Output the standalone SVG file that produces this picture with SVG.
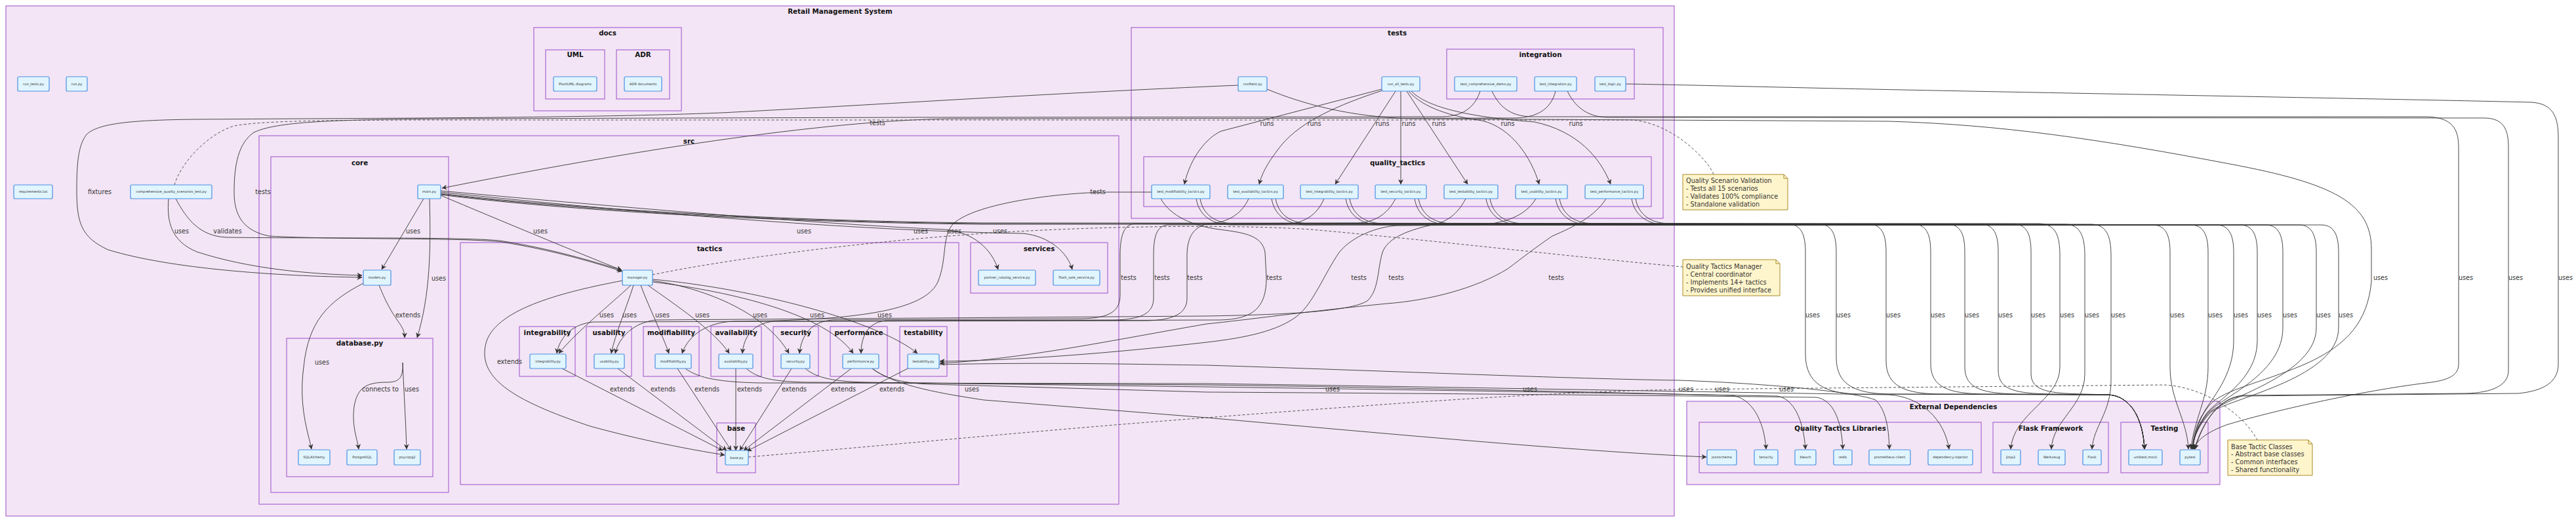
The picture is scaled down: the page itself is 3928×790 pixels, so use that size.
<svg xmlns="http://www.w3.org/2000/svg" width="3928" height="790" viewBox="0 0 3928 790">
<style>
.c{fill:#f3e5f5;stroke:#9c4dcc;stroke-width:1}
.n{fill:#e1f5fe;stroke:#4a90e2;stroke-width:1.2}
.nt{font-family:"DejaVu Sans",sans-serif;font-size:5.2px;fill:#333;text-anchor:middle}
.ct{font-family:"DejaVu Sans",sans-serif;font-size:10.3px;font-weight:bold;fill:#111;text-anchor:middle}
.el{font-family:"DejaVu Sans",sans-serif;font-size:9.6px;fill:#333;text-anchor:middle}
.e{fill:none;stroke:#333;stroke-width:0.9;marker-end:url(#ah)}
.d{fill:none;stroke:#444;stroke-width:0.9;stroke-dasharray:4 3}
.note{fill:#fff5cc;stroke:#aa8a2a;stroke-width:1}
.ntx{font-family:"DejaVu Sans",sans-serif;font-size:9.7px;fill:#333}
</style>
<defs>
<marker id="ah" viewBox="0 0 10 10" refX="9.5" refY="5" markerWidth="8" markerHeight="8" markerUnits="userSpaceOnUse" orient="auto">
<path d="M0,0 L10,5 L0,10 L3,5 z" fill="#333"/>
</marker>
</defs>
<rect width="3928" height="790" fill="#ffffff"/>

<g id="clusters">
<g id="cl-root"><rect class="c" x="9" y="9" width="2544" height="778"/><text class="ct" x="1281" y="21">Retail Management System</text></g>
<g id="cl-docs"><rect class="c" x="814" y="42" width="225" height="127"/><text class="ct" x="926.5" y="53.7">docs</text></g>
<g id="cl-uml"><rect class="c" x="832" y="76" width="90" height="75"/><text class="ct" x="877" y="86.7">UML</text></g>
<g id="cl-adr"><rect class="c" x="940" y="76" width="81" height="75"/><text class="ct" x="980.5" y="86.7">ADR</text></g>
<g id="cl-tests"><rect class="c" x="1725" y="42" width="811" height="291"/><text class="ct" x="2130.5" y="53.7">tests</text></g>
<g id="cl-integration"><rect class="c" x="2206" y="75" width="286" height="76"/><text class="ct" x="2349" y="86.7">integration</text></g>
<g id="cl-quality_tactics"><rect class="c" x="1744" y="239" width="774" height="76"/><text class="ct" x="2131" y="251.7">quality_tactics</text></g>
<g id="cl-src"><rect class="c" x="395" y="207" width="1311" height="562"/><text class="ct" x="1050.5" y="218.7">src</text></g>
<g id="cl-core"><rect class="c" x="413" y="239" width="271" height="512"/><text class="ct" x="548.5" y="251.7">core</text></g>
<g id="cl-database"><rect class="c" x="437" y="516" width="223" height="211"/><text class="ct" x="548.5" y="526.7">database.py</text></g>
<g id="cl-tactics"><rect class="c" x="702" y="370" width="760" height="369"/><text class="ct" x="1082" y="382.7">tactics</text></g>
<g id="cl-services"><rect class="c" x="1480" y="370" width="209" height="77"/><text class="ct" x="1584.5" y="382.7">services</text></g>
<g id="cl-integrability"><rect class="c" x="792" y="498" width="85" height="76"/><text class="ct" x="834.5" y="510.5">integrability</text></g>
<g id="cl-usability"><rect class="c" x="894" y="498" width="69" height="76"/><text class="ct" x="928.5" y="510.5">usability</text></g>
<g id="cl-modifiability"><rect class="c" x="981" y="498" width="85" height="76"/><text class="ct" x="1023.5" y="510.5">modifiability</text></g>
<g id="cl-availability"><rect class="c" x="1084" y="498" width="77" height="76"/><text class="ct" x="1122.5" y="510.5">availability</text></g>
<g id="cl-security"><rect class="c" x="1179" y="498" width="69" height="76"/><text class="ct" x="1213.5" y="510.5">security</text></g>
<g id="cl-performance"><rect class="c" x="1266" y="498" width="87" height="76"/><text class="ct" x="1309.5" y="510.5">performance</text></g>
<g id="cl-testability"><rect class="c" x="1372" y="498" width="72" height="76"/><text class="ct" x="1408" y="510.5">testability</text></g>
<g id="cl-base"><rect class="c" x="1093" y="645" width="59" height="76"/><text class="ct" x="1122.5" y="656.7">base</text></g>
<g id="cl-external"><rect class="c" x="2572" y="612" width="813" height="127"/><text class="ct" x="2978.5" y="623.7">External Dependencies</text></g>
<g id="cl-qtlibs"><rect class="c" x="2591" y="644" width="430" height="77"/><text class="ct" x="2806" y="656.7">Quality Tactics Libraries</text></g>
<g id="cl-flask"><rect class="c" x="3039" y="644" width="176" height="77"/><text class="ct" x="3127" y="656.7">Flask Framework</text></g>
<g id="cl-testing"><rect class="c" x="3234" y="644" width="133" height="77"/><text class="ct" x="3300.5" y="656.7">Testing</text></g>
</g>

<g id="edges">
<!-- core -->
<path class="e" d="M1888,130 C1600,142 1300,162 1100,172 C900,180 600,180 300,182 C200,183 150,188 132,205 C119,222 117,250 117,290 C117,340 124,362 165,381 C260,410 420,421 552,423"/>
<path class="e" d="M257,303 C254,340 262,368 300,384 C380,410 470,418 552,420"/>
<path class="e" d="M268,303 C285,335 305,360 345,362 C500,364 700,361 762,367 C840,379 902,398 948,412"/>
<path class="e" d="M2257,139 C2250,160 2235,177 2200,178 L1400,179 L700,181 C500,182 420,186 387,202 C364,218 357,250 357,293 C357,330 372,352 410,360 C520,366 700,362 765,369 C845,382 905,400 949,414"/>
<path class="e" d="M2372,139 C2366,162 2350,179 2310,180 L1450,181 C1250,184 950,232 674,287"/>
<path class="e" d="M646,303 L582,411"/>
<path class="e" d="M655,303 C657,380 656,450 636,515"/>
<path class="e" d="M578,435 C590,465 600,480 607,490 C614,500 617,505 617,515"/>
<path class="e" d="M554,432 C500,460 470,490 463,560 C455,620 470,660 475,685"/>
<path class="e" d="M614,553 C615,575 610,583 590,583 C560,583 545,590 540,620 C536,650 545,670 547,685"/>
<path class="e" d="M614,553 C616,600 619,650 620,685"/>
<path class="e" d="M672,298 C760,335 880,385 948,412"/>
<path class="e" d="M672,291 C900,312 1250,342 1440,350 C1485,354 1512,380 1522,411"/>
<path class="e" d="M672,293 C950,322 1300,352 1560,356 C1600,360 1628,385 1635,411"/>
<!-- main to flask libs -->
<path class="e" d="M672,295 C900,322 1250,338 1500,340 L3110,341 C3135,342 3141,360 3141,390 L3141,560 C3141,610 3070,630 3066,685"/>
<path class="e" d="M672,296 C900,324 1250,339 1500,341 L3150,342 C3172,343 3179,360 3179,390 L3179,570 C3179,620 3130,640 3128,685"/>
<path class="e" d="M672,297 C900,326 1250,340 1500,342 L3190,342 C3212,343 3219,360 3219,390 L3219,580 C3219,630 3192,650 3190,685"/>
<!-- manager uses -->
<path class="e" d="M962,435 C930,465 880,505 852,539"/>
<path class="e" d="M966,435 C955,470 938,510 932,539"/>
<path class="e" d="M977,435 C990,470 1010,510 1020,539"/>
<path class="e" d="M988,435 C1030,465 1090,505 1112,539"/>
<path class="e" d="M995,428 C1080,440 1170,480 1203,539"/>
<path class="e" d="M995,430 C1120,445 1260,480 1301,539"/>
<path class="e" d="M995,426 C1150,440 1340,490 1399,539"/>
<!-- extends -->
<path class="e" d="M949,428 C860,445 760,470 742,520 C725,575 780,610 900,650 C980,672 1050,685 1105,694"/>
<path class="e" d="M857,562 L1102,687"/>
<path class="e" d="M942,562 L1108,687"/>
<path class="e" d="M1033,562 L1115,687"/>
<path class="e" d="M1122,562 L1122,687"/>
<path class="e" d="M1207,562 L1128,687"/>
<path class="e" d="M1298,562 L1134,687"/>
<path class="e" d="M1386,561 L1139,688"/>
<!-- runs -->
<path class="e" d="M2107,136 L1862,200 C1840,210 1815,240 1806,281"/>
<path class="e" d="M2108,138 C2040,160 1985,185 1955,220 C1935,245 1925,262 1920,281"/>
<path class="e" d="M2128,139 L2036,281"/>
<path class="e" d="M2136,139 L2136,281"/>
<path class="e" d="M2145,139 L2238,281"/>
<path class="e" d="M2148,139 C2170,165 2215,178 2260,184 C2305,195 2335,240 2347,281"/>
<path class="e" d="M2152,139 C2180,168 2260,180 2340,186 C2405,200 2440,240 2456,281"/>
<!-- tests to tactic modules -->
<path class="e" d="M1756,293 L1690,293 C1610,294 1490,310 1455,340 C1435,358 1445,395 1430,430 C1410,475 1300,489 1120,490 C1080,491 1050,510 1040,539"/>
<path class="e" d="M2128,303 C2115,328 2095,339 2070,340 L1730,341 C1713,343 1708,360 1708,390 L1708,450 C1708,476 1690,485 1650,486 L1270,488 C1236,490 1222,512 1219,539"/>
<path class="e" d="M2019,303 C2008,328 1990,340 1960,342 L1780,343 C1763,345 1759,362 1759,390 L1759,455 C1759,478 1740,487 1700,488 L1350,489 C1322,492 1313,515 1313,539"/>
<path class="e" d="M1904,303 C1893,327 1872,339 1845,341 C1820,344 1810,362 1810,390 L1810,455 C1810,478 1790,488 1750,489 L1180,490 C1148,493 1134,514 1132,539"/>
<path class="e" d="M1770,303 C1785,330 1820,345 1860,350 C1900,355 1925,360 1929,385 L1931,424 C1931,470 1910,487 1860,488 L905,491 C872,494 853,515 849,539"/>
<path class="e" d="M2342,303 C2326,330 2292,342 2250,343 L2130,344 C2100,346 2062,360 2042,385 C2018,420 2003,462 1978,482 C1948,505 1900,515 1840,522 C1700,538 1550,550 1433,551"/>
<path class="e" d="M2235,303 C2222,328 2205,338 2188,342 C2150,350 2116,362 2108,385 C2100,412 2103,440 2086,458 C2062,476 1950,480 1840,482 L1000,488 C966,492 944,514 938,539"/>
<path class="e" d="M2449,303 C2432,330 2400,346 2367,360 C2335,382 2315,398 2299,410 C2250,440 2180,458 2115,463 C2000,474 1900,488 1840,494 C1700,518 1560,548 1433,554"/>
<!-- tactic modules to libraries -->
<path class="e" d="M1432,556 C1600,552 1750,556 1840,557 C2100,565 2400,578 2560,580 C2700,585 2830,598 2860,610 C2875,625 2880,650 2881,685"/>
<path class="e" d="M1045,562 C1065,577 1100,583 1160,584 L1840,585 C2200,590 2600,598 2880,602 C2930,605 2965,640 2972,685"/>
<path class="e" d="M1138,562 C1155,577 1180,582 1230,583 L1840,587 C2200,592 2500,600 2640,603 C2670,606 2690,640 2693,685"/>
<path class="e" d="M1228,562 C1245,577 1275,582 1320,583 L1840,590 C2200,595 2600,602 2710,604 C2735,608 2750,640 2753,685"/>
<path class="e" d="M1330,562 C1350,578 1380,585 1420,586 L1840,598 C2200,600 2600,604 2770,606 C2795,610 2808,640 2810,685"/>
<path class="e" d="M1330,562 C1362,586 1420,598 1500,610 L1840,637 C2100,660 2400,688 2602,697"/>
<!-- tests to unittest.mock -->
<path class="e" d="M1830,303 C1834,325 1850,340 1880,341 L2728,342 C2747,343 2753,358 2753,385 L2753,540 C2753,585 2783,600 2833,601 L3215,602 C3250,604 3268,640 3270,685"/>
<path class="e" d="M1945,303 C1949,325 1965,340 1995,341 L2775,342 C2794,343 2800,358 2800,385 L2800,545 C2800,588 2830,600 2880,601 L3215,602 C3250,604 3268,640 3270,685"/>
<path class="e" d="M2058,303 C2062,325 2078,340 2108,341 L2851,342 C2870,343 2876,358 2876,385 L2876,550 C2876,590 2906,600 2956,601 L3215,602 C3250,604 3268,640 3270,685"/>
<path class="e" d="M2163,303 C2167,325 2183,340 2213,341 L2919,342 C2938,343 2944,358 2944,385 L2944,555 C2944,592 2974,600 3024,601 L3215,602 C3250,604 3268,640 3270,685"/>
<path class="e" d="M2272,303 C2276,325 2292,340 2322,341 L2971,342 C2990,343 2996,358 2996,385 L2996,560 C2996,594 3026,600 3076,601 L3215,602 C3250,604 3268,640 3270,685"/>
<path class="e" d="M2378,303 C2382,325 2398,340 2428,341 L3022,342 C3041,343 3047,358 3047,385 L3047,565 C3047,596 3077,600 3127,601 L3215,602 C3250,604 3268,640 3270,685"/>
<path class="e" d="M2494,303 C2498,325 2514,340 2544,341 L3072,342 C3091,343 3097,358 3097,385 L3097,570 C3097,597 3127,600 3177,601 L3215,602 C3250,604 3268,640 3270,685"/>
<!-- tests to pytest -->
<path class="e" d="M1824,303 C1828,327 1846,342 1876,343 L3284,343 C3303,344 3309,360 3309,385 L3309,560 C3309,610 3335,640 3337,685"/>
<path class="e" d="M1939,303 C1943,327 1961,342 1991,343 L3342,343 C3361,344 3367,360 3367,385 L3367,560 C3367,610 3345,640 3341,685"/>
<path class="e" d="M2052,303 C2056,327 2074,342 2104,343 L3381,343 C3400,344 3406,360 3406,385 L3406,520 C3406,575 3370,610 3360,630 C3350,645 3344,665 3343,685"/>
<path class="e" d="M2157,303 C2161,327 2179,342 2209,343 L3417,343 C3436,344 3442,360 3442,385 L3442,520 C3442,580 3380,610 3365,630 C3352,648 3345,665 3343,685"/>
<path class="e" d="M2266,303 C2270,327 2288,342 2318,343 L3456,343 C3475,344 3481,360 3481,385 L3481,500 C3481,570 3390,605 3368,628 C3352,646 3345,665 3343,685"/>
<path class="e" d="M2372,303 C2376,327 2394,342 2424,343 L3507,343 C3526,344 3532,360 3532,385 L3532,500 C3532,570 3400,605 3370,628 C3353,646 3345,665 3343,685"/>
<path class="e" d="M2488,303 C2492,327 2510,342 2540,343 L3541,343 C3560,344 3566,360 3566,385 L3566,500 C3566,575 3410,605 3372,628 C3354,646 3345,665 3343,685"/>
<!-- far right -->
<path class="e" d="M1932,136 C1990,160 2060,178 2150,181 L2880,185 C3050,190 3200,212 3400,250 C3560,280 3616,310 3616,380 L3616,430 C3610,490 3580,525 3520,553 C3460,580 3400,592 3375,612 C3355,630 3346,660 3344,685"/>
<path class="e" d="M2275,139 C2285,160 2300,177 2335,178 L3700,178 C3738,179 3749,195 3749,225 L3749,555 C3749,572 3735,580 3700,584 C3600,596 3460,628 3395,648 C3368,658 3350,670 3345,685"/>
<path class="e" d="M2390,139 C2400,160 2418,178 2450,179 L3790,180 C3818,181 3825,198 3825,225 L3825,565 C3825,588 3800,599 3760,600 L3420,603 C3385,606 3360,640 3346,685"/>
<path class="e" d="M2479,128 C2600,130 2700,133 2900,137 C3300,145 3700,152 3860,156 C3893,158 3901,178 3901,210 L3901,555 C3901,582 3880,596 3840,600 L3420,604 C3385,607 3360,640 3347,685"/>
<!-- notes -->
<path class="d" d="M266,282 C275,250 315,205 357,192 C400,184 500,183 700,183 L2490,183 C2530,187 2565,210 2590,235 C2603,248 2610,258 2613,266"/>
<path class="d" d="M995,419 C1100,397 1300,370 1500,356 C1700,343 1900,343 2000,350 C2200,368 2400,392 2566,407"/>
<path class="d" d="M1141,697 C1400,675 1600,655 1840,637 C2100,617 2350,598 2560,594 L3300,587 C3360,590 3420,630 3442,671"/>
</g>

<g id="nodes">
<g id="n-run_tests"><rect class="n" x="27" y="117" width="48" height="22" rx="2"/><text class="nt" x="51" y="129.9">run_tests.py</text></g>
<g id="n-run"><rect class="n" x="101" y="117" width="32" height="22" rx="2"/><text class="nt" x="117" y="129.9">run.py</text></g>
<g id="n-plantuml"><rect class="n" x="844" y="117" width="66" height="22" rx="2"/><text class="nt" x="877" y="129.9">PlantUML diagrams</text></g>
<g id="n-adrdocs"><rect class="n" x="952" y="117" width="57" height="22" rx="2"/><text class="nt" x="980.5" y="129.9">ADR documents</text></g>
<g id="n-conftest"><rect class="n" x="1888" y="117" width="44" height="22" rx="2"/><text class="nt" x="1910" y="129.9">conftest.py</text></g>
<g id="n-run_all_tests"><rect class="n" x="2107" y="117" width="58" height="22" rx="2"/><text class="nt" x="2136" y="129.9">run_all_tests.py</text></g>
<g id="n-test_comprehensive_demo"><rect class="n" x="2218" y="117" width="95" height="22" rx="2"/><text class="nt" x="2265.5" y="129.9">test_comprehensive_demo.py</text></g>
<g id="n-test_integration"><rect class="n" x="2340" y="117" width="64" height="22" rx="2"/><text class="nt" x="2372" y="129.9">test_integration.py</text></g>
<g id="n-test_logic"><rect class="n" x="2432" y="117" width="47" height="22" rx="2"/><text class="nt" x="2455.5" y="129.9">test_logic.py</text></g>
<g id="n-requirements"><rect class="n" x="21" y="282" width="59" height="21" rx="2"/><text class="nt" x="50.5" y="294.4">requirements.txt</text></g>
<g id="n-cqst"><rect class="n" x="199" y="282" width="124" height="21" rx="2"/><text class="nt" x="261" y="294.4">comprehensive_quality_scenarios_test.py</text></g>
<g id="n-main"><rect class="n" x="637" y="282" width="35" height="21" rx="2"/><text class="nt" x="654.5" y="294.4">main.py</text></g>
<g id="n-t_mod"><rect class="n" x="1756" y="282" width="89" height="21" rx="2"/><text class="nt" x="1800.5" y="294.4">test_modifiability_tactics.py</text></g>
<g id="n-t_avail"><rect class="n" x="1872" y="282" width="85" height="21" rx="2"/><text class="nt" x="1914.5" y="294.4">test_availability_tactics.py</text></g>
<g id="n-t_integ"><rect class="n" x="1983" y="282" width="88" height="21" rx="2"/><text class="nt" x="2027" y="294.4">test_integrability_tactics.py</text></g>
<g id="n-t_sec"><rect class="n" x="2097" y="282" width="78" height="21" rx="2"/><text class="nt" x="2136" y="294.4">test_security_tactics.py</text></g>
<g id="n-t_test"><rect class="n" x="2202" y="282" width="82" height="21" rx="2"/><text class="nt" x="2243" y="294.4">test_testability_tactics.py</text></g>
<g id="n-t_usab"><rect class="n" x="2311" y="282" width="79" height="21" rx="2"/><text class="nt" x="2350.5" y="294.4">test_usability_tactics.py</text></g>
<g id="n-t_perf"><rect class="n" x="2417" y="282" width="89" height="21" rx="2"/><text class="nt" x="2461.5" y="294.4">test_performance_tactics.py</text></g>
<g id="n-models"><rect class="n" x="554" y="412" width="42" height="23" rx="2"/><text class="nt" x="575" y="425.4">models.py</text></g>
<g id="n-manager"><rect class="n" x="949" y="412" width="46" height="23" rx="2"/><text class="nt" x="972" y="425.4">manager.py</text></g>
<g id="n-partner"><rect class="n" x="1492" y="412" width="87" height="23" rx="2"/><text class="nt" x="1535.5" y="425.4">partner_catalog_service.py</text></g>
<g id="n-flash_sale"><rect class="n" x="1606" y="412" width="71" height="23" rx="2"/><text class="nt" x="1641.5" y="425.4">flash_sale_service.py</text></g>
<g id="n-integrability"><rect class="n" x="808" y="540" width="55" height="22" rx="2"/><text class="nt" x="835.5" y="552.9">integrability.py</text></g>
<g id="n-usability"><rect class="n" x="906" y="540" width="46" height="22" rx="2"/><text class="nt" x="929" y="552.9">usability.py</text></g>
<g id="n-modifiability"><rect class="n" x="999" y="540" width="55" height="22" rx="2"/><text class="nt" x="1026.5" y="552.9">modifiability.py</text></g>
<g id="n-availability"><rect class="n" x="1096" y="540" width="52" height="22" rx="2"/><text class="nt" x="1122" y="552.9">availability.py</text></g>
<g id="n-security"><rect class="n" x="1191" y="540" width="44" height="22" rx="2"/><text class="nt" x="1213" y="552.9">security.py</text></g>
<g id="n-performance"><rect class="n" x="1285" y="540" width="55" height="22" rx="2"/><text class="nt" x="1312.5" y="552.9">performance.py</text></g>
<g id="n-testability"><rect class="n" x="1384" y="540" width="48" height="22" rx="2"/><text class="nt" x="1408" y="552.9">testability.py</text></g>
<g id="n-sqlalchemy"><rect class="n" x="455" y="686" width="48" height="23" rx="2"/><text class="nt" x="479" y="699.4">SQLAlchemy</text></g>
<g id="n-postgresql"><rect class="n" x="529" y="686" width="46" height="23" rx="2"/><text class="nt" x="552" y="699.4">PostgreSQL</text></g>
<g id="n-psycopg2"><rect class="n" x="601" y="686" width="40" height="23" rx="2"/><text class="nt" x="621" y="699.4">psycopg2</text></g>
<g id="n-base"><rect class="n" x="1106" y="687" width="35" height="22" rx="2"/><text class="nt" x="1123.5" y="699.9">base.py</text></g>
<g id="n-jsonschema"><rect class="n" x="2603" y="686" width="45" height="23" rx="2"/><text class="nt" x="2625.5" y="699.4">jsonschema</text></g>
<g id="n-tenacity"><rect class="n" x="2675" y="686" width="36" height="23" rx="2"/><text class="nt" x="2693" y="699.4">tenacity</text></g>
<g id="n-bleach"><rect class="n" x="2737" y="686" width="32" height="23" rx="2"/><text class="nt" x="2753" y="699.4">bleach</text></g>
<g id="n-redis"><rect class="n" x="2796" y="686" width="28" height="23" rx="2"/><text class="nt" x="2810" y="699.4">redis</text></g>
<g id="n-prometheus"><rect class="n" x="2850" y="686" width="63" height="23" rx="2"/><text class="nt" x="2881.5" y="699.4">prometheus-client</text></g>
<g id="n-depinj"><rect class="n" x="2940" y="686" width="68" height="23" rx="2"/><text class="nt" x="2974" y="699.4">dependency-injector</text></g>
<g id="n-jinja2"><rect class="n" x="3051" y="686" width="30" height="23" rx="2"/><text class="nt" x="3066" y="699.4">Jinja2</text></g>
<g id="n-werkzeug"><rect class="n" x="3108" y="686" width="41" height="23" rx="2"/><text class="nt" x="3128.5" y="699.4">Werkzeug</text></g>
<g id="n-flask"><rect class="n" x="3176" y="686" width="28" height="23" rx="2"/><text class="nt" x="3190" y="699.4">Flask</text></g>
<g id="n-mock"><rect class="n" x="3246" y="686" width="51" height="23" rx="2"/><text class="nt" x="3271.5" y="699.4">unittest.mock</text></g>
<g id="n-pytest"><rect class="n" x="3324" y="686" width="31" height="23" rx="2"/><text class="nt" x="3339.5" y="699.4">pytest</text></g>
</g>

<g id="notes">
<g id="note-scenarios"><path class="note" d="M2566,266 L2720,266 L2726,272 L2726,320 L2566,320 Z"/><path d="M2720,266 L2720,272 L2726,272" fill="none" stroke="#aa8a2a"/>
<text class="ntx" x="2571" y="278.5">Quality Scenario Validation</text><text class="ntx" x="2571" y="290.5">- Tests all 15 scenarios</text><text class="ntx" x="2571" y="302.5">- Validates 100% compliance</text><text class="ntx" x="2571" y="314.5">- Standalone validation</text></g>
<g id="note-manager"><path class="note" d="M2566,396 L2708,396 L2714,402 L2714,451 L2566,451 Z"/><path d="M2708,396 L2708,402 L2714,402" fill="none" stroke="#aa8a2a"/>
<text class="ntx" x="2571" y="410">Quality Tactics Manager</text><text class="ntx" x="2571" y="422">- Central coordinator</text><text class="ntx" x="2571" y="434">- Implements 14+ tactics</text><text class="ntx" x="2571" y="445.5">- Provides unified interface</text></g>
<g id="note-base"><path class="note" d="M3397,671 L3520,671 L3526,677 L3526,725 L3397,725 Z"/><path d="M3520,671 L3520,677 L3526,677" fill="none" stroke="#aa8a2a"/>
<text class="ntx" x="3402" y="684.5">Base Tactic Classes</text><text class="ntx" x="3402" y="695.5">- Abstract base classes</text><text class="ntx" x="3402" y="707.5">- Common interfaces</text><text class="ntx" x="3402" y="719.5">- Shared functionality</text></g>
</g>

<g id="edge-labels">
<text class="el" x="152" y="296.4">fixtures</text>
<text class="el" x="401" y="296.4">tests</text>
<text class="el" x="277" y="356.4">uses</text>
<text class="el" x="347" y="356.4">validates</text>
<text class="el" x="630" y="356.4">uses</text>
<text class="el" x="669" y="428.4">uses</text>
<text class="el" x="622" y="484.4">extends</text>
<text class="el" x="491" y="556.4">uses</text>
<text class="el" x="580" y="597.4">connects to</text>
<text class="el" x="628" y="597.4">uses</text>
<text class="el" x="824" y="356.4">uses</text>
<text class="el" x="1226" y="356.4">uses</text>
<text class="el" x="1404" y="356.4">uses</text>
<text class="el" x="1455" y="356.4">uses</text>
<text class="el" x="1525" y="356.4">uses</text>
<text class="el" x="1338" y="191.4">tests</text>
<text class="el" x="1674" y="296.4">tests</text>
<text class="el" x="1932" y="192.4">runs</text>
<text class="el" x="2004" y="192.4">runs</text>
<text class="el" x="2108" y="192.4">runs</text>
<text class="el" x="2148" y="192.4">runs</text>
<text class="el" x="2194" y="192.4">runs</text>
<text class="el" x="2299" y="192.4">runs</text>
<text class="el" x="2403" y="192.4">runs</text>
<text class="el" x="925" y="484.4">uses</text>
<text class="el" x="960" y="484.4">uses</text>
<text class="el" x="1010" y="484.4">uses</text>
<text class="el" x="1071" y="484.4">uses</text>
<text class="el" x="1159" y="484.4">uses</text>
<text class="el" x="1246" y="484.4">uses</text>
<text class="el" x="1349" y="484.4">uses</text>
<text class="el" x="777" y="555.4">extends</text>
<text class="el" x="949" y="597.4">extends</text>
<text class="el" x="1011" y="597.4">extends</text>
<text class="el" x="1078" y="597.4">extends</text>
<text class="el" x="1143" y="597.4">extends</text>
<text class="el" x="1211" y="597.4">extends</text>
<text class="el" x="1286" y="597.4">extends</text>
<text class="el" x="1360" y="597.4">extends</text>
<text class="el" x="1482" y="597.4">uses</text>
<text class="el" x="2032" y="597.4">uses</text>
<text class="el" x="2333" y="597.4">uses</text>
<text class="el" x="2571" y="597.4">uses</text>
<text class="el" x="2626" y="597.4">uses</text>
<text class="el" x="2724" y="597.4">uses</text>
<text class="el" x="1721" y="427.4">tests</text>
<text class="el" x="1772" y="427.4">tests</text>
<text class="el" x="1822" y="427.4">tests</text>
<text class="el" x="1943" y="427.4">tests</text>
<text class="el" x="2072" y="427.4">tests</text>
<text class="el" x="2129" y="427.4">tests</text>
<text class="el" x="2373" y="427.4">tests</text>
<text class="el" x="2764" y="484.4">uses</text>
<text class="el" x="2811" y="484.4">uses</text>
<text class="el" x="2887" y="484.4">uses</text>
<text class="el" x="2955" y="484.4">uses</text>
<text class="el" x="3007" y="484.4">uses</text>
<text class="el" x="3058" y="484.4">uses</text>
<text class="el" x="3108" y="484.4">uses</text>
<text class="el" x="3152" y="484.4">uses</text>
<text class="el" x="3190" y="484.4">uses</text>
<text class="el" x="3230" y="484.4">uses</text>
<text class="el" x="3320" y="484.4">uses</text>
<text class="el" x="3378" y="484.4">uses</text>
<text class="el" x="3417" y="484.4">uses</text>
<text class="el" x="3453" y="484.4">uses</text>
<text class="el" x="3492" y="484.4">uses</text>
<text class="el" x="3543" y="484.4">uses</text>
<text class="el" x="3577" y="484.4">uses</text>
<text class="el" x="3630" y="427.4">uses</text>
<text class="el" x="3760" y="427.4">uses</text>
<text class="el" x="3836" y="427.4">uses</text>
<text class="el" x="3912" y="427.4">uses</text>
</g>
</svg>
